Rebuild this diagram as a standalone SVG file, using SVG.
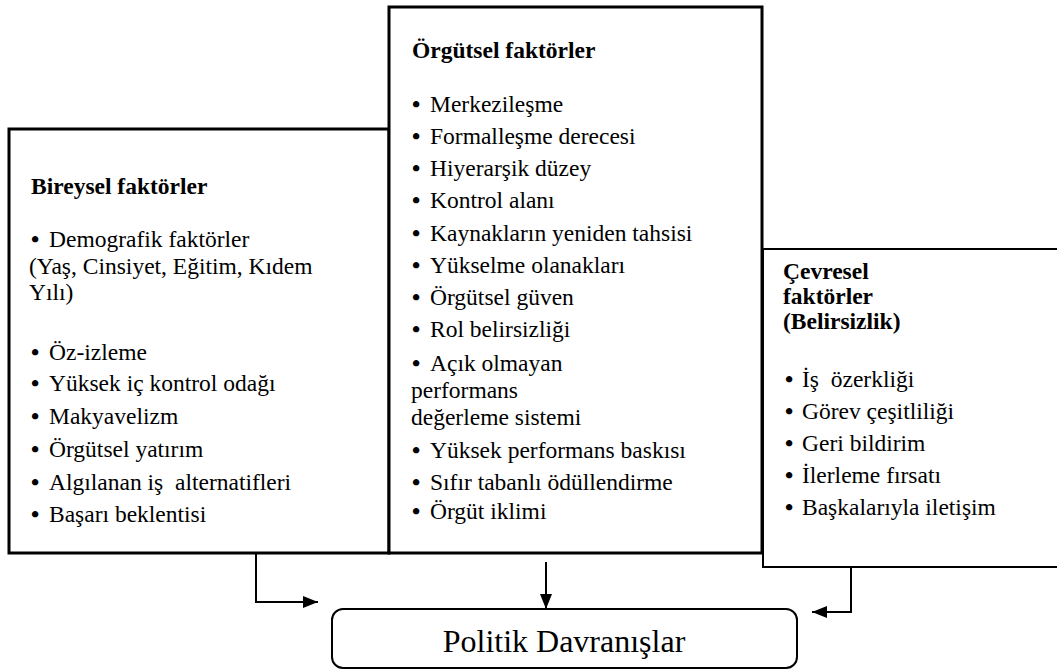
<svg xmlns="http://www.w3.org/2000/svg" width="1057" height="670" viewBox="0 0 1057 670">
<style>
.box{fill:#fff;stroke:#000;stroke-width:3}
.rbox{fill:#fff;stroke:#000;stroke-width:2}
.t{font-family:"Liberation Serif","Times New Roman",serif;font-size:23.5px;fill:#000}
.b{font-weight:bold}
.d{font-weight:bold}
.big{font-family:"Liberation Serif","Times New Roman",serif;font-size:32px;fill:#000}
.conn{fill:none;stroke:#000;stroke-width:2}
</style>
<defs>
<marker id="ah" markerUnits="userSpaceOnUse" markerWidth="15" markerHeight="12" refX="15" refY="6" orient="auto">
<path d="M0,0 L15,6 L0,12 z" fill="#000"/>
</marker>
</defs>
<g id="bireysel">
<rect class="box" x="9" y="129" width="380" height="424"/>
<text class="t b" x="31" y="194">Bireysel faktörler</text>
<text class="t" x="31" y="247"><tspan class="d">•</tspan><tspan x="49">Demografik faktörler</tspan></text>
<text class="t" x="29" y="274">(Yaş, Cinsiyet, Eğitim, Kıdem</text>
<text class="t" x="29" y="300">Yılı)</text>
<text class="t" x="31" y="360"><tspan class="d">•</tspan><tspan x="49">Öz-izleme</tspan></text>
<text class="t" x="31" y="391"><tspan class="d">•</tspan><tspan x="49">Yüksek iç kontrol odağı</tspan></text>
<text class="t" x="31" y="424"><tspan class="d">•</tspan><tspan x="49">Makyavelizm</tspan></text>
<text class="t" x="31" y="457"><tspan class="d">•</tspan><tspan x="49">Örgütsel yatırım</tspan></text>
<text class="t" x="31" y="490" xml:space="preserve"><tspan class="d">•</tspan><tspan x="49">Algılanan iş  alternatifleri</tspan></text>
<text class="t" x="31" y="522"><tspan class="d">•</tspan><tspan x="49">Başarı beklentisi</tspan></text>
</g>
<g id="orgutsel">
<rect class="box" x="389" y="7" width="373" height="546"/>
<text class="t b" x="412" y="58">Örgütsel faktörler</text>
<text class="t" x="412" y="112"><tspan class="d">•</tspan><tspan x="430">Merkezileşme</tspan></text>
<text class="t" x="412" y="144"><tspan class="d">•</tspan><tspan x="430">Formalleşme derecesi</tspan></text>
<text class="t" x="412" y="176"><tspan class="d">•</tspan><tspan x="430">Hiyerarşik düzey</tspan></text>
<text class="t" x="412" y="208"><tspan class="d">•</tspan><tspan x="430">Kontrol alanı</tspan></text>
<text class="t" x="412" y="241"><tspan class="d">•</tspan><tspan x="430">Kaynakların yeniden tahsisi</tspan></text>
<text class="t" x="412" y="273"><tspan class="d">•</tspan><tspan x="430">Yükselme olanakları</tspan></text>
<text class="t" x="412" y="305"><tspan class="d">•</tspan><tspan x="430">Örgütsel güven</tspan></text>
<text class="t" x="412" y="337"><tspan class="d">•</tspan><tspan x="430">Rol belirsizliği</tspan></text>
<text class="t" x="412" y="371"><tspan class="d">•</tspan><tspan x="430">Açık olmayan</tspan></text>
<text class="t" x="411" y="398">performans</text>
<text class="t" x="411" y="425">değerleme sistemi</text>
<text class="t" x="412" y="458"><tspan class="d">•</tspan><tspan x="430">Yüksek performans baskısı</tspan></text>
<text class="t" x="412" y="490"><tspan class="d">•</tspan><tspan x="430">Sıfır tabanlı ödüllendirme</tspan></text>
<text class="t" x="412" y="519"><tspan class="d">•</tspan><tspan x="430">Örgüt iklimi</tspan></text>
</g>
<g id="cevresel">
<rect class="rbox" x="763" y="249" width="310" height="318"/>
<text class="t b" x="783" y="279">Çevresel</text>
<text class="t b" x="783" y="304">faktörler</text>
<text class="t b" x="783" y="329">(Belirsizlik)</text>
<text class="t" x="785" y="387" xml:space="preserve"><tspan class="d">•</tspan><tspan x="802">İş  özerkliği</tspan></text>
<text class="t" x="785" y="419"><tspan class="d">•</tspan><tspan x="802">Görev çeşitliliği</tspan></text>
<text class="t" x="785" y="451"><tspan class="d">•</tspan><tspan x="802">Geri bildirim</tspan></text>
<text class="t" x="785" y="483"><tspan class="d">•</tspan><tspan x="802">İlerleme fırsatı</tspan></text>
<text class="t" x="785" y="515"><tspan class="d">•</tspan><tspan x="802">Başkalarıyla iletişim</tspan></text>
</g>
<g id="politik">
<rect x="332" y="609" width="465" height="59" rx="11" fill="#fff" stroke="#000" stroke-width="2"/>
<text class="big" x="564" y="652" text-anchor="middle">Politik Davranışlar</text>
</g>
<g id="connectors">
<path class="conn" d="M256,554 V602 H318" marker-end="url(#ah)"/>
<path class="conn" d="M546,562 V609" marker-end="url(#ah)"/>
<path class="conn" d="M851,568 V612 H812" marker-end="url(#ah)"/>
</g>
</svg>
